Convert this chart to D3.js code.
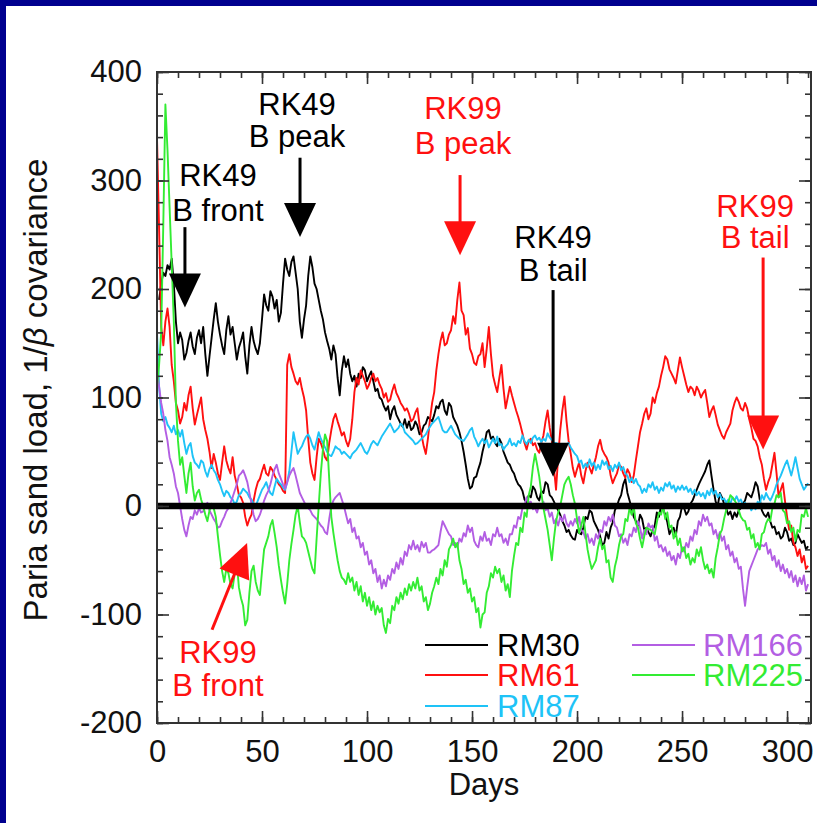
<!DOCTYPE html>
<html>
<head>
<meta charset="utf-8">
<script src="https://cdn.jsdelivr.net/npm/d3@7/dist/d3.min.js"></script>
<style>
  html, body { margin: 0; padding: 0; background: #fff; }
  svg { display: block; }
  text { font-family: "Liberation Sans", Arial, Helvetica, sans-serif; }
</style>
</head>
<body>
<svg id="chart" width="817" height="823"></svg>
<script>
// Daily samples, day 0 to day 310.
const days = d3.range(0, 311);

// Paria sand load, 1/beta covariance, one value per day (rows of ten days).
const rm30 = [
  null, 190, 205, 215, 212, 222, 218, 228, 205, 170,
  150, 160, 153, 135, 141, 152, 160, 147, 140, 155,
  162, 150, 165, 140, 120, 138, 155, 172, 187, 170,
  158, 148, 140, 162, 175, 158, 165, 150, 135, 146,
  152, 160, 138, 122, 148, 165, 152, 145, 140, 150,
  172, 195, 185, 180, 198, 193, 182, 190, 170, 178,
  205, 228, 218, 212, 225, 230, 215, 200, 170, 155,
  172, 185, 212, 230, 220, 205, 200, 190, 180, 172,
  160, 152, 145, 135, 148, 140, 118, 102, 125, 138,
  128, 135, 122, 115, 120, 110, 122, 118, 128, 125,
  115, 120, 124, 115, 106, 108, 100, 98, 92, 88,
  92, 80, 88, 92, 84, 80, 76, 73, 80, 72,
  78, 70, 72, 78, 74, 66, 68, 74, 76, 82,
  80, 78, 84, 92, 90, 96, 98, 88, 84, 95,
  92, 82, 78, 74, 68, 60, 50, 38, 25, 16,
  18, 26, 27, 34, 40, 50, 58, 68, 70, 62,
  64, 58, 55, 62, 58, 50, 45, 40, 38, 33,
  30, 24, 20, 18, 14, 6, 3, 10, 8, 18,
  15, 8, 5, 14, 12, 22, 20, 10, 8, 4,
  0, -4, -8, -14, -18, -24, -22, -27, -30, -31,
  -22, -25, -26, -20, -10, -12, -4, -6, -14, -18,
  -22, -28, -36, -34, -24, -30, -20, -15, -4, 0,
  6, 10, 20, 25, 12, 5, -2, -10, -14, -18,
  -8, -12, -22, -20, -24, -28, -22, -18, -6, -10,
  0, -3, -8, -15, -26, -22, -20, -28, -14, -10,
  0, -2, -8, -5, 2, 5, 10, 15, 20, 24,
  28, 32, 38, 42, 28, 15, 4, 0, 12, 8,
  2, -2, -8, -5, -12, -6, -10, -4, -2, 2,
  5, 12, 10, 8, 14, 22, 18, 6, -4, -8,
  -10, -6, -14, -20, -19, -26, -24, -30, -28, -20,
  -24, -32, -30, -36, -34, -26, -30, -34, -32, -40, -37
];
const rm61 = [
  339, 255, 165, 148, 170, 182, 165, 130, 115, 95,
  88, 76, 82, 95, 88, 102, 110, 90, 75, 84,
  92, 100, 80, 70, 62, 50, 35, 48, 40, 30,
  24, 40, 55, 42, 35, 30, 45, 28, 20, 10,
  8, 3, -10, -18, -12, -8, 5, 15, 22, 25,
  32, 38, 30, 28, 36, 33, 28, 24, 20, 18,
  14, 12, 130, 140, 128, 122, 115, 112, 118, 108,
  100, 88, 62, 40, 30, 24, 45, 62, 58, 52,
  45, 42, 58, 70, 80, 85, 78, 72, 65, 68,
  60, 55, 62, 80, 105, 118, 112, 125, 120, 115,
  108, 112, 118, 122, 115, 118, 112, 108, 100, 104,
  96, 98, 106, 112, 104, 100, 95, 92, 88, 90,
  85, 78, 80, 86, 90, 75, 65, 55, 48, 62,
  80, 95, 105, 125, 140, 152, 160, 148, 150, 158,
  162, 175, 168, 190, 206, 180, 176, 158, 164, 145,
  140, 132, 130, 138, 140, 150, 128, 145, 165, 140,
  120, 112, 105, 118, 130, 108, 90, 100, 110, 102,
  95, 88, 82, 75, 67, 58, 52, 60, 62, 56,
  58, 52, 49, 58, 65, 78, 88, 72, 60, 35,
  15, 45, 70, 88, 101, 78, 60, 48, 35, 27,
  34, 40, 28, 21, 32, 40, 35, 30, 38, 45,
  55, 61, 52, 48, 45, 40, 28, 21, 26, 30,
  38, 36, 30, 26, 34, 30, 22, 28, 42, 55,
  68, 76, 85, 90, 80, 85, 100, 95, 104, 110,
  120, 128, 138, 135, 126, 122, 118, 113, 125, 137,
  128, 120, 112, 105, 110, 108, 102, 110, 106, 100,
  104, 107, 95, 82, 88, 92, 84, 75, 70, 65,
  62, 68, 72, 76, 88, 95, 100, 96, 90, 88,
  95, 90, 80, 72, 62, 60, 55, 45, 38, 25,
  15, 22, 27, 38, 49, 30, 8, 15, 21, 5,
  -10, -22, -18, -34, -38, -46, -40, -52, -46, -58, -55
];
const rm87 = [
  160, 110, 85, 78, 82, 75, 72, 68, 74, 66,
  70, 64, 70, 58, 48, 55, 58, 46, 40, 38,
  35, 42, 40, 32, 27, 34, 38, 33, 30, 24,
  20, 14, 9, 14, 12, 8, 6, 2, 4, 10,
  12, 16, 14, 12, 8, 6, 2, 0, 5, 10,
  15, 18, 22, 16, 12, 10, 18, 25, 22, 20,
  17, 15, 22, 32, 50, 68, 58, 48, 52, 55,
  60, 64, 66, 62, 56, 52, 60, 68, 62, 58,
  54, 50, 47, 46, 50, 55, 53, 52, 48, 50,
  48, 46, 44, 48, 50, 52, 55, 58, 54, 50,
  48, 52, 57, 60, 58, 56, 60, 64, 67, 70,
  73, 76, 72, 68, 70, 72, 76, 74, 68, 66,
  64, 62, 60, 57, 58, 60, 62, 64, 66, 70,
  73, 76, 78, 80, 82, 76, 70, 68, 68, 71,
  74, 70, 66, 64, 62, 61, 60, 63, 66, 70,
  72, 64, 60, 55, 59, 62, 58, 61, 54, 58,
  62, 58, 64, 56, 57, 52, 55, 57, 62, 56,
  58, 55, 60, 58, 65, 60, 57, 61, 58, 63,
  65, 61, 63, 59, 62, 60, 67, 63, 61, 58,
  58, 57, 56, 55, 55, 57, 58, 54, 51, 48,
  46, 40, 42, 35, 39, 36, 43, 37, 40, 33,
  38, 34, 42, 38, 41, 34, 37, 32, 38, 35,
  40, 33, 36, 30, 28, 22, 26, 21, 25, 20,
  18, 12, 16, 13, 20, 17, 22, 15, 18, 12,
  17, 14, 21, 18, 22, 16, 19, 13, 18, 15,
  19, 15, 18, 13, 16, 11, 15, 10, 13, 9,
  12, 7, 14, 10, 16, 11, 14, 8, 11, 6,
  7, 3, 6, 2, 8, 5, 9, 4, 6, 1,
  3, -2, 1, -4, 0, -3, 4, 2, 10, 6,
  12, 8, 5, 9, 14, 20, 24, 28, 33, 38,
  42, 35, 28, 36, 45, 35, 25, 20, 15, 18, 21
];
const rm166 = [
  125, 110, 95, 85, 70, 60, 45, 38, 30, 18,
  12, 0, -12, -22, -28, -18, -10, -12, -4, -8,
  -2, -6, -5, 0, 3, -4, -8, -12, -15, -20,
  -19, -14, -10, -5, -2, 3, 8, 14, 20, 28,
  30, 33, 28, 22, 12, 2, -8, -14, -12, -8,
  -2, 5, 10, 14, 20, 28, 34, 38, 30, 25,
  20, 16, 22, 28, 32, 35, 28, 20, 12, 8,
  4, 0, -2, -4, -8, -10, -12, -15, -18, -20,
  -24, -26, -12, 0, 5, 8, 10, 12, 6, 0,
  -8, -16, -12, -24, -20, -30, -28, -38, -34, -45,
  -42, -54, -50, -62, -58, -70, -64, -76, -68, -74,
  -64, -68, -58, -62, -52, -58, -48, -54, -42, -46,
  -36, -40, -32, -40, -36, -42, -33, -38, -34, -43,
  -43, -41, -40, -38, -36, -24, -14, -18, -22, -26,
  -28, -36, -34, -38, -30, -33, -25, -28, -18, -24,
  -20, -32, -36, -38, -28, -32, -24, -32, -30, -36,
  -26, -28, -20, -28, -26, -34, -30, -36, -26, -26,
  -18, -20, -10, -12, -2, 0, 8, 3, 4, -3,
  -2, -6, 2, -2, 4, -4, -2, -10, -6, -16,
  -12, -18, -10, -14, -8, -16, -19, -14, -18, -12,
  -16, -10, -22, -24, -30, -26, -34, -30, -36, -26,
  -30, -22, -24, -14, -18, -10, -14, -8, -18, -20,
  -28, -26, -34, -30, -36, -26, -28, -20, -24, -14,
  -20, -30, -22, -26, -16, -20, -18, -32, -28, -38,
  -36, -42, -38, -46, -42, -50, -46, -54, -44, -48,
  -38, -42, -34, -38, -28, -32, -22, -26, -14, -18,
  -8, -14, -10, -18, -16, -26, -22, -30, -24, -32,
  -28, -40, -36, -46, -42, -52, -48, -58, -56, -76,
  -92, -75, -60, -55, -50, -45, -40, -38, -36, -37,
  -34, -44, -40, -50, -46, -56, -50, -60, -54, -62,
  -58, -66, -60, -70, -64, -74, -66, -72, -64, -78, -72
];
const rm225 = [
  110, 130, 160, 260, 370, 328, 275, 223, 170, 95,
  60, 38, 45, 28, 12, 30, 40, 18, 5, 12,
  15, 6, 0, -8, -14, -4, 2, -2, -10, -28,
  -45, -60, -70, -58, -62, -72, -76, -62, -52, -75,
  -85, -92, -110, -105, -80, -60, -55, -70, -78, -82,
  -60, -40, -34, -28, -18, -13, -25, -38, -55, -68,
  -80, -90, -72, -50, -35, -22, -8, 0, -15, -28,
  -30, -34, -42, -50, -58, -62, -30, 0, 30, 52,
  66, 60, 25, -10, -25, -38, -50, -60, -66, -68,
  -72, -62, -70, -66, -78, -70, -82, -74, -88, -80,
  -92, -84, -96, -88, -100, -92, -98, -94, -110, -117,
  -104, -108, -92, -96, -84, -90, -80, -86, -76, -82,
  -72, -78, -70, -76, -66, -78, -74, -88, -84, -96,
  -90, -80, -74, -66, -72, -58, -64, -50, -56, -40,
  -36, -30, -38, -34, -50, -58, -72, -68, -80, -76,
  -88, -84, -98, -94, -112, -100, -98, -80, -74, -62,
  -66, -56, -62, -58, -70, -64, -78, -72, -84, -60,
  -46, -34, -36, -20, -24, -6, -10, 10, 18, 36,
  48, 38, 27, 12, -2, -12, -22, -36, -50, -30,
  -14, -6, 0, 10, 20, 24, 27, 20, 10, 2,
  -12, -25, -18, -10, -25, -40, -50, -58, -54, -50,
  -38, -30, -40, -36, -52, -50, -66, -70, -56, -48,
  -36, -28, -26, -12, -14, -2, -8, 0, -16, -20,
  -30, -38, -28, -20, -21, -22, -24, -26, -15, -6,
  -8, 0, -12, -6, -20, -18, -30, -24, -36, -30,
  -42, -38, -48, -44, -54, -48, -52, -40, -46, -38,
  -50, -58, -54, -62, -58, -66, -48, -38, -26, -22,
  -12, -4, 3, 10, 8, 5, 2, -4, -10, -13,
  -14, -22, -20, -30, -26, -38, -34, -40, -26, -24,
  -16, -12, -14, -2, 2, 10, 8, 12, -4, -6,
  -16, -14, -24, -20, -32, -22, -24, -8, -10, -2, -10
];

const seriesNames = ["RM30", "RM61", "RM87", "RM166", "RM225"];
const seriesValues = [rm30, rm61, rm87, rm166, rm225];
const seriesColors = ["#000000", "#ff1010", "#1ec3f7", "#b35ee3", "#33ec33"];

const xMajorTicks = [0, 50, 100, 150, 200, 250, 300];
const xMinorTicks = d3.range(0, 311, 10);
const yMajorTicks = [-200, -100, 0, 100, 200, 300, 400];
const yMinorTicks = d3.range(-200, 401, 20);

// Arrow annotations, in chart units (day, load).
const notes = [
  { lines: ["RK49", "B front"], color: "#000", label: [29.0, 305, 273], tail: [13.3, 257], tip: [13.3, 183] },
  { lines: ["RK49", "B peak"],  color: "#000", label: [66.7, 371, 341], tail: [68.1, 321], tip: [68.1, 248] },
  { lines: ["RK99", "B peak"],  color: "#ff1010", label: [145.7, 367, 335], tail: [144.3, 305], tip: [144.3, 231] },
  { lines: ["RK49", "B tail"],  color: "#000", label: [188.6, 248, 218], tail: [188.6, 199], tip: [188.6, 27] },
  { lines: ["RK99", "B tail"],  color: "#ff1010", label: [284.8, 277, 248], tail: [288.6, 229], tip: [288.6, 52] },
  { lines: ["RK99", "B front"], color: "#ff1010", label: [29.0, -134, -165], tail: [26.2, -114], tip: [42.9, -34] }
];

const svg = d3.select("#chart");
const W = 817, H = 823;
const pLeft = 157, pRight = 811, pTop = 72, pBottom = 723;

// Page background with the dark blue frame edges.
svg.append("rect").attr("width", W).attr("height", H).attr("fill", "#fff");
svg.append("rect").attr("x", 0).attr("y", 0).attr("width", W).attr("height", 6).attr("fill", "#00008f");
svg.append("rect").attr("x", 0).attr("y", 0).attr("width", 6).attr("height", H).attr("fill", "#00008f");

const x = d3.scaleLinear().domain([0, 311.4]).range([pLeft, pRight]);
const y = d3.scaleLinear().domain([-200, 400]).range([pBottom, pTop]);

svg.append("defs").append("clipPath").attr("id", "plot-clip")
  .append("rect").attr("x", pLeft).attr("y", pTop).attr("width", pRight - pLeft).attr("height", pBottom - pTop);

// Series lines
const line = d3.line()
  .defined(d => d[1] != null)
  .x(d => x(d[0]))
  .y(d => y(d[1]));

const gLines = svg.append("g").attr("clip-path", "url(#plot-clip)");
seriesValues.forEach((vals, i) => {
  gLines.append("path")
    .datum(days.map((d, k) => [d, vals[k]]))
    .attr("fill", "none")
    .attr("stroke", seriesColors[i])
    .attr("stroke-width", 1.9)
    .attr("stroke-linejoin", "round")
    .attr("d", line);
});

// Zero reference line
svg.append("line")
  .attr("x1", pLeft).attr("x2", pRight)
  .attr("y1", y(0)).attr("y2", y(0))
  .attr("stroke", "#000").attr("stroke-width", 6.5);

// Axes: ticks point into the plot on all four sides.
function styleAxis(g) {
  g.select(".domain").remove();
  g.selectAll(".tick line").attr("stroke", "#333").attr("stroke-width", 1.6);
  g.selectAll("text").attr("font-size", 31).attr("fill", "#111")
    .attr("font-family", "'Liberation Sans', Arial, Helvetica, sans-serif");
}
const noLabel = () => "";
const plain = d => String(d);

svg.append("g").attr("transform", `translate(0,${pBottom})`)
  .call(d3.axisBottom(x).tickValues(xMinorTicks).tickSize(-6).tickFormat(noLabel)).call(styleAxis);
svg.append("g").attr("transform", `translate(0,${pBottom})`)
  .call(d3.axisBottom(x).tickValues(xMajorTicks).tickSize(-12).tickPadding(17).tickFormat(plain)).call(styleAxis);
svg.append("g").attr("transform", `translate(0,${pTop})`)
  .call(d3.axisTop(x).tickValues(xMinorTicks).tickSize(-6).tickFormat(noLabel)).call(styleAxis);
svg.append("g").attr("transform", `translate(0,${pTop})`)
  .call(d3.axisTop(x).tickValues(xMajorTicks).tickSize(-12).tickFormat(noLabel)).call(styleAxis);

svg.append("g").attr("transform", `translate(${pLeft},0)`)
  .call(d3.axisLeft(y).tickValues(yMinorTicks).tickSize(-6).tickFormat(noLabel)).call(styleAxis);
svg.append("g").attr("transform", `translate(${pLeft},0)`)
  .call(d3.axisLeft(y).tickValues(yMajorTicks).tickSize(-12).tickPadding(15).tickFormat(plain)).call(styleAxis);
svg.append("g").attr("transform", `translate(${pRight},0)`)
  .call(d3.axisRight(y).tickValues(yMinorTicks).tickSize(-6).tickFormat(noLabel)).call(styleAxis);
svg.append("g").attr("transform", `translate(${pRight},0)`)
  .call(d3.axisRight(y).tickValues(yMajorTicks).tickSize(-12).tickFormat(noLabel)).call(styleAxis);

// Plot frame
svg.append("rect")
  .attr("x", pLeft).attr("y", pTop).attr("width", pRight - pLeft).attr("height", pBottom - pTop)
  .attr("fill", "none").attr("stroke", "#333").attr("stroke-width", 2);

// Axis titles
svg.append("text")
  .attr("x", (pLeft + pRight) / 2).attr("y", 795)
  .attr("text-anchor", "middle").attr("font-size", 31).attr("fill", "#111")
  .text("Days");

const yTitle = svg.append("text")
  .attr("transform", "translate(47,390) rotate(-90)")
  .attr("text-anchor", "middle").attr("font-size", 33).attr("fill", "#111");
yTitle.append("tspan").text("Paria sand load, 1/");
yTitle.append("tspan").attr("font-style", "italic").text("β");
yTitle.append("tspan").text(" covariance");

// Annotations with arrows
const headLen = 34, headHalf = 16;
notes.forEach(n => {
  const g = svg.append("g");
  n.lines.forEach((t, i) => {
    g.append("text")
      .attr("x", x(n.label[0])).attr("y", y(n.label[1 + i]))
      .attr("dy", "0.36em")
      .attr("text-anchor", "middle").attr("font-size", 31).attr("fill", n.color)
      .text(t);
  });
  const x0 = x(n.tail[0]), y0 = y(n.tail[1]);
  const x1 = x(n.tip[0]), y1 = y(n.tip[1]);
  const len = Math.hypot(x1 - x0, y1 - y0);
  const ux = (x1 - x0) / len, uy = (y1 - y0) / len;
  const bx = x1 - ux * headLen, by = y1 - uy * headLen;
  g.append("line")
    .attr("x1", x0).attr("y1", y0).attr("x2", bx + ux * 2).attr("y2", by + uy * 2)
    .attr("stroke", n.color).attr("stroke-width", 3);
  g.append("path")
    .attr("d", `M${x1},${y1}L${bx - uy * headHalf},${by + ux * headHalf}L${bx + uy * headHalf},${by - ux * headHalf}Z`)
    .attr("fill", n.color);
});

// Legend
const legendSpots = [
  { lx: 425, tx: 497, y: 645 },
  { lx: 425, tx: 497, y: 675 },
  { lx: 425, tx: 497, y: 706 },
  { lx: 632, tx: 703, y: 645 },
  { lx: 632, tx: 703, y: 675 }
];
seriesNames.forEach((name, i) => {
  const s = legendSpots[i];
  svg.append("line")
    .attr("x1", s.lx).attr("x2", s.lx + 63).attr("y1", s.y).attr("y2", s.y)
    .attr("stroke", seriesColors[i]).attr("stroke-width", 2);
  svg.append("text")
    .attr("x", s.tx).attr("y", s.y).attr("dy", "0.36em")
    .attr("font-size", 31).attr("fill", seriesColors[i])
    .text(name);
});
</script>
</body>
</html>
